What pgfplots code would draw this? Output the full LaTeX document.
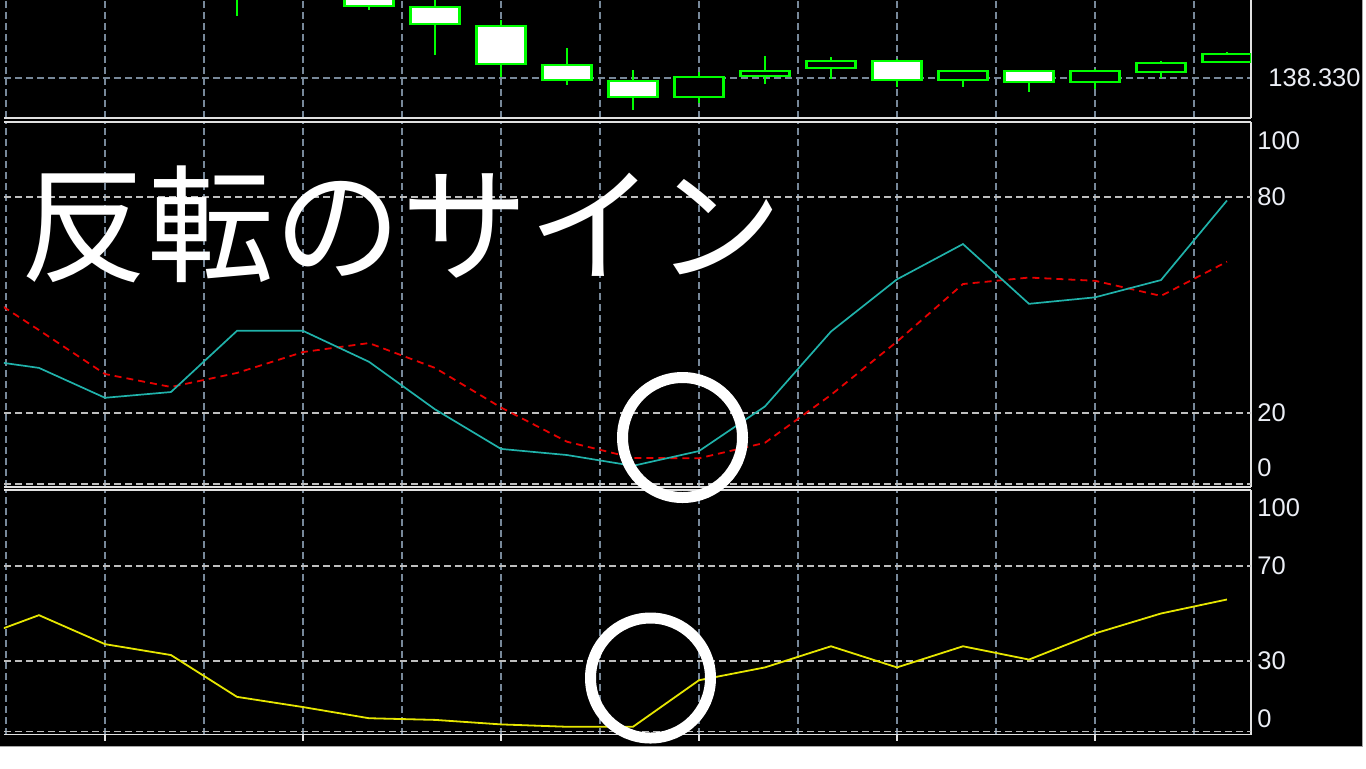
\documentclass[border=0pt]{standalone}
\usepackage{pgfplots}
\usepackage{pgfplotstable}
\pgfplotsset{compat=1.18}
\usepackage{fontspec}
\setmainfont{Liberation Sans}
\newfontfamily\jp{Noto Sans CJK JP}
\definecolor{slate}{RGB}{119,136,153}
\definecolor{silv}{RGB}{190,190,190}
\definecolor{lsg}{RGB}{32,178,170}
\definecolor{sigred}{RGB}{230,0,0}
\definecolor{rsiyel}{RGB}{230,230,0}
\definecolor{candle}{RGB}{0,255,0}
\definecolor{frame}{RGB}{225,225,225}
\definecolor{labcol}{RGB}{235,238,245}

% OHLC (price), bar index j
\pgfplotstableread{
j o h l c
3 138.447 138.470 138.392 138.414
4 138.469 138.480 138.412 138.436
5 138.439 138.446 138.399 138.402
6 138.401 138.411 138.353 138.384
7 138.382 138.390 138.333 138.344
8 138.343 138.361 138.324 138.328
9 138.327 138.339 138.299 138.311
10 138.311 138.337 138.306 138.331
11 138.332 138.353 138.324 138.337
12 138.340 138.353 138.331 138.347
13 138.347 138.350 138.322 138.328
14 138.328 138.338 138.322 138.337
15 138.337 138.338 138.316 138.326
16 138.326 138.340 138.320 138.337
17 138.336 138.349 138.332 138.345
18 138.346 138.357 138.346 138.354
}\ohlc

% Stochastic: main and signal
\pgfplotstableread{
j main signal
-1 35.1 55.0
0 32.5 43.0
1 24.2 30.8
2 25.8 27.2
3 42.8 31.1
4 42.8 36.9
5 34.2 39.4
6 21.0 32.5
7 10.0 21.5
8 8.3 12.0
9 5.3 7.5
10 9.4 7.4
11 21.8 11.7
12 42.6 25.0
13 57.1 39.8
14 66.9 55.8
15 50.3 57.6
16 52.1 56.7
17 56.9 52.5
18 79.0 62.0
}\stoch

% RSI
\pgfplotstableread{
j rsi
-1 39.0
0 49.3
1 37.1
2 32.5
3 14.9
4 10.6
5 5.9
6 5.2
7 3.3
8 2.3
9 2.3
10 21.9
11 27.3
12 36.2
13 27.3
14 36.2
15 30.6
16 41.6
17 50.0
18 55.9
}\rsi

\pgfplotsset{
  mt/.style={
    scale only axis, width=623.5pt, anchor=north west,
    xmin=-0.53, xmax=18.364,
    axis x line*=box, axis y line*=right,
    axis line style={draw=frame, line width=0.8pt},
    xtick={-0.5,1,...,17.5}, xticklabels={},
    xtick pos=bottom,
    major tick length=0pt,
    xmajorgrids=true,
    major grid style={draw=slate, line width=0.8pt, dash pattern=on 3.4pt off 2.1pt},
    yticklabel style={font=\fontsize{12.75pt}{14pt}\selectfont, text=labcol, anchor=west, inner sep=0pt, xshift=3pt},
    /pgf/number format/assume math mode=true,
    clip=true,
  },
  lvl/.style={draw=silv, line width=0.8pt, dash pattern=on 3.4pt off 2.1pt, forget plot},
}

\begin{document}
\begin{tikzpicture}
\useasboundingbox (0,0) rectangle (683pt,-384pt);
\clip (0,0) rectangle (683pt,-384pt);
\fill[white] (0,0) rectangle (683pt,-384pt);
\fill[black] (0,0) rectangle (681pt,-373pt);
\draw[gray!70, line width=0.5pt] (681pt,0) -- (681pt,-373pt) -- (0,-373pt);

% ---------- price panel ----------
\begin{axis}[mt, at={(2pt,5pt)}, height=64pt,
  ymin=138.290, ymax=138.418,
  ytick={138.33}, yticklabels={138.330},
  ymajorgrids=true,
  yticklabel style={xshift=5.5pt}]
\addplot[draw=none, mark=none, forget plot,
  error bars/.cd, y dir=both, y explicit, error mark=none,
  error bar style={draw=candle, line width=1.1pt}]
  table[x=j, y expr={(\thisrow{h}+\thisrow{l})/2}, y error expr={(\thisrow{h}-\thisrow{l})/2}] {\ohlc};
% bodies: bearish (white), bullish (hollow)
\pgfplotsset{bear/.style={draw=candle, fill=white, line width=1.1pt, line join=miter, forget plot},
             bull/.style={draw=candle, fill=black, line width=1.1pt, line join=miter, forget plot}}
\addplot[bear] coordinates {(2.629,138.447)(3.371,138.447)(3.371,138.414)(2.629,138.414)} -- cycle;
\addplot[bear] coordinates {(3.629,138.469)(4.371,138.469)(4.371,138.436)(3.629,138.436)} -- cycle;
\addplot[bear] coordinates {(4.629,138.439)(5.371,138.439)(5.371,138.402)(4.629,138.402)} -- cycle;
\addplot[bear] coordinates {(5.629,138.401)(6.371,138.401)(6.371,138.384)(5.629,138.384)} -- cycle;
\addplot[bear] coordinates {(6.629,138.382)(7.371,138.382)(7.371,138.344)(6.629,138.344)} -- cycle;
\addplot[bear] coordinates {(7.629,138.343)(8.371,138.343)(8.371,138.328)(7.629,138.328)} -- cycle;
\addplot[bear] coordinates {(8.629,138.327)(9.371,138.327)(9.371,138.311)(8.629,138.311)} -- cycle;
\addplot[bull] coordinates {(9.629,138.331)(10.371,138.331)(10.371,138.311)(9.629,138.311)} -- cycle;
\addplot[bull] coordinates {(10.629,138.337)(11.371,138.337)(11.371,138.332)(10.629,138.332)} -- cycle;
\addplot[bull] coordinates {(11.629,138.347)(12.371,138.347)(12.371,138.340)(11.629,138.340)} -- cycle;
\addplot[bear] coordinates {(12.629,138.347)(13.371,138.347)(13.371,138.328)(12.629,138.328)} -- cycle;
\addplot[bull] coordinates {(13.629,138.337)(14.371,138.337)(14.371,138.328)(13.629,138.328)} -- cycle;
\addplot[bear] coordinates {(14.629,138.337)(15.371,138.337)(15.371,138.326)(14.629,138.326)} -- cycle;
\addplot[bull] coordinates {(15.629,138.337)(16.371,138.337)(16.371,138.326)(15.629,138.326)} -- cycle;
\addplot[bull] coordinates {(16.629,138.345)(17.371,138.345)(17.371,138.336)(16.629,138.336)} -- cycle;
\addplot[bull] coordinates {(17.629,138.354)(18.371,138.354)(18.371,138.346)(17.629,138.346)} -- cycle;
\end{axis}

% ---------- stochastic panel ----------
\begin{axis}[mt, at={(2pt,-61pt)}, height=182.35pt,
  ymin=-0.5, ymax=100.8,
  ytick={4.7,20,80,95.6}, yticklabels={0,20,80,100}]
\addplot[lvl] coordinates {(-0.53,0.3) (18.364,0.3)};
\addplot[lvl] coordinates {(-0.53,20) (18.364,20)};
\addplot[lvl] coordinates {(-0.53,80) (18.364,80)};
\addplot[draw=sigred, line width=0.9pt, dash pattern=on 3.5pt off 2.5pt, mark=none] table[x=j, y=signal] {\stoch};
\addplot[draw=lsg, line width=0.85pt, mark=none] table[x=j, y=main] {\stoch};
\end{axis}

% ---------- RSI panel ----------
\begin{axis}[mt, at={(2pt,-245pt)}, height=122.3pt,
  ymin=-1, ymax=102,
  ytick={5.6,30,70,94.4}, yticklabels={0,30,70,100},
  extra x ticks={1,4,...,16}, extra x tick labels={},
  extra x tick style={grid=none, major tick length=3pt, tick align=outside,
     tick style={draw=frame, line width=0.8pt}}]
\addplot[lvl] coordinates {(-0.53,0.3) (18.364,0.3)};
\addplot[lvl] coordinates {(-0.53,30) (18.364,30)};
\addplot[lvl] coordinates {(-0.53,70) (18.364,70)};
\addplot[draw=rsiyel, line width=0.9pt, mark=none] table[x=j, y=rsi] {\rsi};
\end{axis}

% ---------- annotations ----------
\node[anchor=base west, inner sep=0pt, text=white,
  font=\jp\fontsize{63.5pt}{64pt}\selectfont] at (10pt,-136pt) {反転のサイン};
\draw[white, line width=5.5pt] (341.25pt,-218.75pt) circle[radius=30pt];
\draw[white, line width=5.5pt] (325.25pt,-339pt) circle[radius=30pt];
\end{tikzpicture}
\end{document}
